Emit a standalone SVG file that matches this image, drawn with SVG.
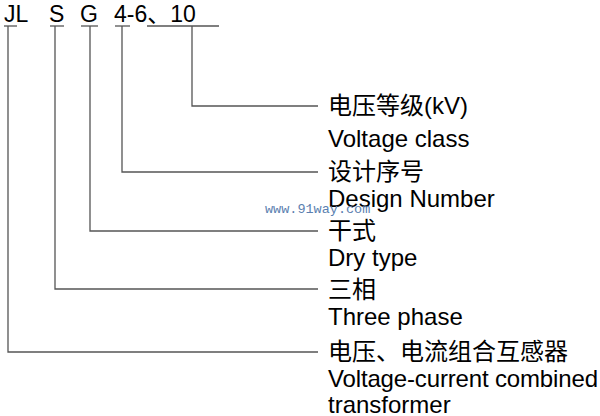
<svg xmlns="http://www.w3.org/2000/svg" width="600" height="416" viewBox="0 0 600 416">
<style>
.t{font-family:"Liberation Sans",Arial,"Noto Sans CJK SC",sans-serif;font-size:23px;fill:#000}
.l{font-family:"Liberation Sans",Arial,"Noto Sans CJK SC",sans-serif;font-size:24px;fill:#000}
.c line,.c polyline{stroke:#555;stroke-width:1.3;fill:none}
</style>
<rect width="600" height="416" fill="#fff"/>
<g id="code">
<text class="t" x="4" y="22">JL</text>
<text class="t" x="49" y="22">S</text>
<text class="t" x="80" y="22">G</text>
<text class="t" x="114" y="22">4-6、10</text>
</g>
<g class="c" id="connectors">
<line x1="4" y1="26" x2="17" y2="26"/>
<line x1="50" y1="26" x2="64" y2="26"/>
<line x1="81" y1="26" x2="98" y2="26"/>
<line x1="115" y1="26" x2="130" y2="26"/>
<line x1="147" y1="26" x2="219" y2="26"/>
<polyline points="192,26 192,106 318,106"/>
<polyline points="122,26 122,172 318,172"/>
<polyline points="90,26 90,231 318,231"/>
<polyline points="55,26 55,289 318,289"/>
<polyline points="8,26 8,352 318,352"/>
</g>
<g id="n1"><text class="l" x="328" y="114">电压等级(kV)</text><text class="l" x="328" y="147">Voltage class</text></g>
<g id="n2"><text class="l" x="328" y="180">设计序号</text><text class="l" x="328" y="207">Design Number</text></g>
<g id="n3"><text class="l" x="328" y="239">干式</text><text class="l" x="328" y="266">Dry type</text></g>
<g id="n4"><text class="l" x="328" y="298">三相</text><text class="l" x="328" y="325">Three phase</text></g>
<g id="n5"><text class="l" x="328" y="360">电压、电流组合互感器</text><text class="l" x="328" y="387" textLength="270">Voltage-current combined</text><text class="l" x="328" y="413">transformer</text></g>
<text x="265" y="213" font-family="Liberation Mono,monospace" font-size="13.5" fill="#5b7fb0">www.91way.com</text>
</svg>
